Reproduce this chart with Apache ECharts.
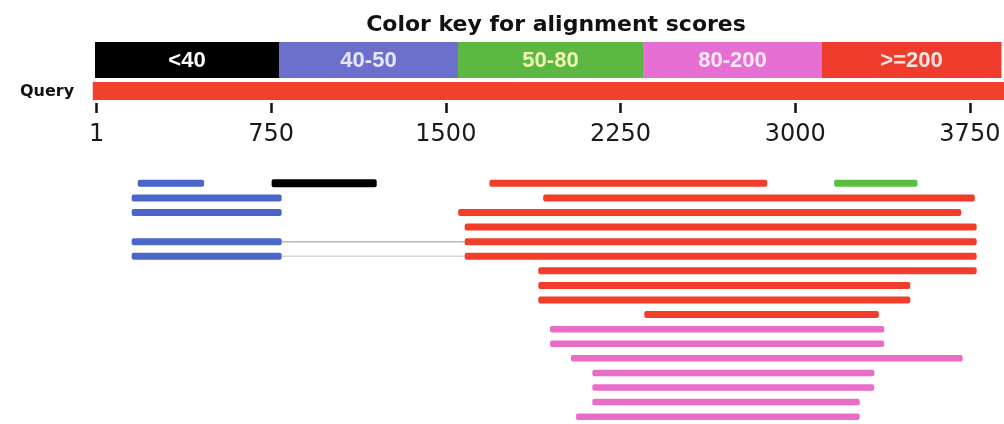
<!DOCTYPE html>
<html>
<head>
<meta charset="utf-8">
<script src="https://cdn.jsdelivr.net/npm/echarts@6/dist/echarts.min.js"></script>
<style>
  html, body { margin: 0; padding: 0; background: #ffffff; }
  #chart { width: 1004px; height: 424px; }
</style>
</head>
<body>
<div id="chart"></div>
<script>
// Query sequence extent and axis ticks
const queryLength = 3890;
const tickValues = [1, 750, 1500, 2250, 3000, 3750];

// Score classes shown in the colour key
const scoreBins = ['<40', '40-50', '50-80', '80-200', '>=200'];

// Hits per score class: [row, queryStart, queryEnd]
const hitsBelow40 = [[0, 752, 1203]];
const hits40to50 = [[0, 177, 462], [1, 151, 795], [2, 151, 795], [4, 151, 795], [5, 151, 795]];
const hits50to80 = [[0, 3167, 3525]];
const hits80to200 = [[10, 1947, 3382], [11, 1947, 3382], [12, 2037, 3719], [13, 2129, 3340],
                     [14, 2129, 3339], [15, 2129, 3277], [16, 2059, 3277]];
const hitsAbove200 = [[0, 1687, 2880], [1, 1918, 3771], [2, 1553, 3713], [3, 1581, 3779],
                      [4, 1581, 3779], [5, 1581, 3779], [6, 1897, 3779], [7, 1897, 3494],
                      [8, 1897, 3494], [9, 2352, 3359]];
// Thin lines joining two HSPs of the same subject: [row, from, to]
const hitLinks = [[4, 795, 1581], [5, 795, 1581]];
const rowCount = 17;

// Styling
const keyColors = ['#000000', '#6d6fcc', '#5db843', '#e56fd3', '#f03c2c'];
const keyTextColors = ['#ffffff', '#e6e6ff', '#eef6b4', '#ffe8fb', '#ffe8e2'];
const hitColors = ['#000000', '#4a66c8', '#5cbd44', '#e96cc8', '#f03e2a'];
const hitGroups = [hitsBelow40, hits40to50, hits50to80, hits80to200, hitsAbove200];
const linkColors = ['#b4bba6', '#d8d8d8'];

// Key strip geometry (segment edges in pixels)
const keyEdges = [95, 279, 458, 643, 822, 1001];
const KEY_TOP = 42, KEY_H = 36;

const chart = echarts.init(document.getElementById('chart'), null, { renderer: 'canvas' });

function hitRenderer(color, h) {
  return function (params, api) {
    const a = api.coord([api.value(1), api.value(0)]);
    const b = api.coord([api.value(2), api.value(0)]);
    return {
      type: 'rect',
      shape: { x: a[0], y: a[1] - h / 2, width: b[0] - a[0], height: h, r: 2 },
      style: { fill: color }
    };
  };
}

const graphic = [
  {
    type: 'text', x: 556, y: 25,
    style: {
      text: 'Color key for alignment scores', fill: '#111111',
      font: 'bold 22px "DejaVu Sans", sans-serif', align: 'center', verticalAlign: 'middle'
    }
  },
  {
    type: 'text', x: 47, y: 92,
    style: {
      text: 'Query', fill: '#111111',
      font: 'bold 16px "DejaVu Sans", sans-serif', align: 'center', verticalAlign: 'middle'
    }
  }
];
scoreBins.forEach(function (label, i) {
  const x0 = keyEdges[i], x1 = keyEdges[i + 1];
  graphic.push({
    type: 'rect',
    shape: { x: x0, y: KEY_TOP, width: x1 - x0 + 0.5, height: KEY_H },
    style: { fill: keyColors[i] }
  });
  graphic.push({
    type: 'text', x: (x0 + x1) / 2, y: KEY_TOP + KEY_H / 2 + 1,
    style: {
      text: label, fill: keyTextColors[i],
      font: 'bold 22px "Liberation Sans", Arial, sans-serif', align: 'center', verticalAlign: 'middle'
    }
  });
});

const series = [
  {
    type: 'custom', xAxisIndex: 0, yAxisIndex: 0, silent: true,
    data: [[1, queryLength]],
    encode: { x: [0, 1] },
    renderItem: function (params, api) {
      const a = api.coord([api.value(0), 0]);
      const b = api.coord([api.value(1), 0]);
      const cs = params.coordSys;
      return {
        type: 'rect',
        shape: { x: a[0] - 4, y: cs.y, width: b[0] - a[0] + 6, height: 18 },
        style: { fill: '#f2402e' }
      };
    }
  },
  {
    type: 'custom', xAxisIndex: 1, yAxisIndex: 1, silent: true, clip: false,
    data: hitLinks,
    encode: { x: [1, 2], y: 0 },
    renderItem: function (params, api) {
      const a = api.coord([api.value(1), api.value(0)]);
      const b = api.coord([api.value(2), api.value(0)]);
      return {
        type: 'line',
        shape: { x1: a[0], y1: a[1], x2: b[0], y2: b[1] },
        style: { stroke: linkColors[params.dataIndex], lineWidth: 1.5 }
      };
    }
  }
];
hitGroups.forEach(function (group, i) {
  series.push({
    type: 'custom', name: scoreBins[i], xAxisIndex: 1, yAxisIndex: 1, silent: true, clip: false,
    data: group,
    encode: { x: [1, 2], y: 0 },
    renderItem: hitRenderer(hitColors[i], i === 0 ? 8 : (i === 3 ? 6.5 : 7))
  });
});

chart.setOption({
  animation: false,
  backgroundColor: '#ffffff',
  graphic: graphic,
  grid: [
    { left: 96.5, right: 1.5, top: 82, height: 21 },
    { left: 96.5, right: 1.5, top: 176, bottom: 0 }
  ],
  xAxis: [
    {
      type: 'value', gridIndex: 0, min: 0, max: queryLength, position: 'bottom',
      splitLine: { show: false }, axisLine: { show: false },
      axisTick: { show: true, customValues: tickValues, length: 10, lineStyle: { color: '#111111', width: 2.5 } },
      axisLabel: {
        show: true, customValues: tickValues, margin: 20,
        formatter: function (v) { return String(v); },
        fontSize: 24, fontFamily: '"DejaVu Sans", sans-serif', color: '#1a1a1a'
      }
    },
    {
      type: 'value', gridIndex: 1, min: 0, max: queryLength, show: false,
      splitLine: { show: false }
    }
  ],
  yAxis: [
    { type: 'value', gridIndex: 0, min: 0, max: 1, show: false, splitLine: { show: false } },
    {
      type: 'category', gridIndex: 1, inverse: true, show: false,
      data: Array.from({ length: rowCount }, function (_, i) { return String(i + 1); })
    }
  ],
  series: series
});
</script>
</body>
</html>
